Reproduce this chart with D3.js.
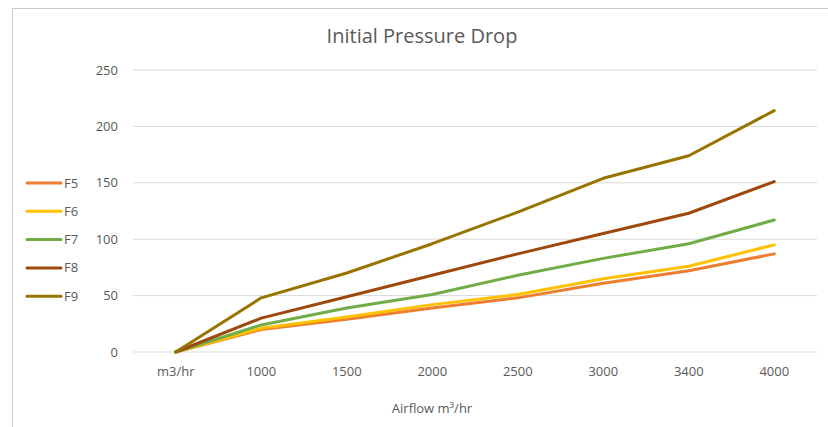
<!DOCTYPE html>
<html>
<head>
<meta charset="utf-8">
<script src="https://cdn.jsdelivr.net/npm/d3@7"></script>
<style>
  body { margin: 0; background: #fff; }
  text { font-family: "Liberation Sans Narrow", "Open Sans", sans-serif; }
</style>
</head>
<body>
<svg id="chart" width="828" height="427"></svg>
<script>
const categories = ["m3/hr", "1000", "1500", "2000", "2500", "3000", "3400", "4000"];
const seriesNames = ["F5", "F6", "F7", "F8", "F9"];
const f5 = [0, 20, 29, 39, 48, 61, 72, 87];
const f6 = [0, 21, 31, 42, 51, 65, 76, 95];
const f7 = [0, 24, 39, 51, 68, 83, 96, 117];
const f8 = [0, 30, 49, 68, 87, 105, 123, 151];
const f9 = [0, 48, 70, 96, 124, 154, 174, 214];
const yTicks = [0, 50, 100, 150, 200, 250];
const colors = ["#ED7D31", "#FFC000", "#70AD47", "#9E480E", "#997300"];

const seriesValues = [f5, f6, f7, f8, f9];
const widthSVG = 828, heightSVG = 427;
const plot = { left: 133, right: 817, top: 70, bottom: 352 };

let svg = d3.select("#chart");

// chart frame
svg.append("rect")
    .attr("x", 12.5).attr("y", 8.5)
    .attr("width", 825).attr("height", 430)
    .style("fill", "none").style("stroke", "#c8c8c8");

let x = d3.scalePoint()
    .domain(categories)
    .range([plot.left, plot.right])
    .padding(0.5);

let y = d3.scaleLinear()
    .domain([0, 250])
    .range([plot.bottom, plot.top]);

// gridlines
svg.append("g")
    .selectAll("line")
    .data(yTicks)
    .enter().append("line")
    .attr("x1", plot.left).attr("x2", plot.right)
    .attr("y1", d => y(d)).attr("y2", d => y(d))
    .style("stroke", "#d9d9d9").style("stroke-width", 1);

// y labels
svg.append("g")
    .selectAll("text")
    .data(yTicks)
    .enter().append("text")
    .attr("x", 118)
    .attr("y", d => y(d))
    .attr("dy", "0.35em")
    .attr("text-anchor", "end")
    .style("font-size", "13px")
    .style("fill", "#595959")
    .text(d => d);

// x labels
svg.append("g")
    .selectAll("text")
    .data(categories)
    .enter().append("text")
    .attr("x", d => x(d))
    .attr("y", 376)
    .attr("text-anchor", "middle")
    .style("font-size", "13px")
    .style("fill", "#595959")
    .text(d => d);

// title
svg.append("text")
    .attr("x", 422).attr("y", 43)
    .attr("text-anchor", "middle")
    .style("font-size", "20px")
    .style("fill", "#595959")
    .text("Initial Pressure Drop");

// axis title
svg.append("text")
    .attr("x", 432).attr("y", 413)
    .attr("text-anchor", "middle")
    .style("font-size", "13px")
    .style("fill", "#595959")
    .text("Airflow m³/hr");

let line = d3.line()
    .x((d, i) => x(categories[i]))
    .y(d => y(d));

svg.append("g")
    .selectAll("path")
    .data(seriesValues)
    .enter().append("path")
    .attr("d", line)
    .style("fill", "none")
    .style("stroke", (d, i) => colors[i])
    .style("stroke-width", 3)
    .style("stroke-linejoin", "round")
    .style("stroke-linecap", "round");

// legend
let legend = svg.append("g")
    .selectAll("g")
    .data(seriesNames)
    .enter().append("g")
    .attr("transform", (d, i) => `translate(0, ${183 + i * 28.3})`);

legend.append("line")
    .attr("x1", 27).attr("x2", 61)
    .style("stroke", (d, i) => colors[i])
    .style("stroke-width", 3)
    .style("stroke-linecap", "round");

legend.append("text")
    .attr("x", 64)
    .attr("dy", "0.35em")
    .style("font-size", "13px")
    .style("fill", "#595959")
    .text(d => d);
</script>
</body>
</html>
